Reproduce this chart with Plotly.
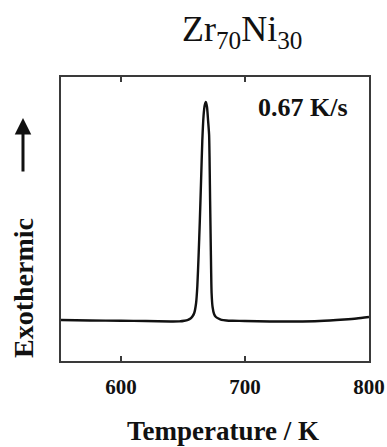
import plotly.graph_objects as go

# DSC trace (temperature in K, signal in arbitrary units)
T_K = [551.5, 575, 600, 620, 640, 647, 651, 654, 656, 657.5, 659, 660.5, 661.5,
       662.5, 663.5, 664.5, 665.5, 666.5, 667.5, 668.4, 669.3, 670.2, 671, 671.8,
       672.4, 673, 673.8, 675, 676.5, 678.5, 681, 685, 690, 700, 720, 740, 760,
       780, 790, 800]
signal = [41, 40.5, 40.3, 40, 39.5, 39.6, 40.2, 41.2, 42.5, 44.5, 48, 58, 75,
          105, 140, 180, 220, 245, 256, 259, 254, 240, 226, 161,
          110, 68, 54, 47, 44, 42.5, 41.2, 40.5, 40.2, 40, 39.5, 39.5, 40,
          41.5, 42.5, 44]

x_ticks = [600, 700, 800]
x_tick_labels = ["600", "700", "800"]

title_text = "Zr<sub>70</sub>Ni<sub>30</sub>"
rate_text = "0.67 K/s"
y_title = "Exothermic"
x_title = "Temperature / K"

serif = "Liberation Serif, Times New Roman, serif"
axis_color = "#3a3a3a"

fig = go.Figure()
fig.add_trace(go.Scatter(x=T_K, y=signal, mode="lines",
                         line=dict(color="#111111", width=2.4, shape="spline", smoothing=0.6),
                         hoverinfo="skip"))

fig.update_layout(
    width=387, height=447,
    margin=dict(l=61, r=18, t=77, b=86),
    paper_bgcolor="white", plot_bgcolor="white",
    showlegend=False,
    xaxis=dict(range=[551.5, 800], tickvals=x_ticks, ticktext=x_tick_labels,
               ticks="inside", ticklen=5, tickwidth=1.5, tickcolor=axis_color,
               showline=True, linecolor=axis_color, linewidth=2, mirror="ticks",
               showgrid=False, zeroline=False, automargin=False,
               tickfont=dict(family=serif, size=21, color="#111111", weight="bold"),
               ticklabelstandoff=6),
    yaxis=dict(range=[0, 284], showticklabels=False, ticks="",
               showline=True, linecolor=axis_color, linewidth=2, mirror=True,
               showgrid=False, zeroline=False, automargin=False),
    annotations=[
        dict(text=title_text, xref="paper", yref="paper", x=0.5877, y=1.1585,
             xanchor="center", yanchor="middle", showarrow=False,
             font=dict(family=serif, size=36, color="#111111")),
        dict(text="<b>" + rate_text + "</b>", xref="paper", yref="paper", x=0.7857, y=0.891,
             xanchor="center", yanchor="middle", showarrow=False,
             font=dict(family=serif, size=26, color="#111111")),
        dict(text="<b>" + y_title + "</b>", xref="paper", yref="paper", x=-0.1234, y=0.257,
             xanchor="center", yanchor="middle", showarrow=False, textangle=-90,
             font=dict(family=serif, size=28, color="#111111")),
        dict(text="<b>" + x_title + "</b>", xref="paper", yref="paper", x=0.526, y=-0.2465,
             xanchor="center", yanchor="middle", showarrow=False,
             font=dict(family=serif, size=27, color="#111111")),
        dict(text="", xref="paper", yref="paper", x=-0.1234, y=0.8556,
             ax=0, ay=55, axref="pixel", ayref="pixel", showarrow=True,
             arrowhead=2, arrowsize=1.1, arrowwidth=3, arrowcolor="#111111"),
    ],
)

fig.write_html("out.html")
